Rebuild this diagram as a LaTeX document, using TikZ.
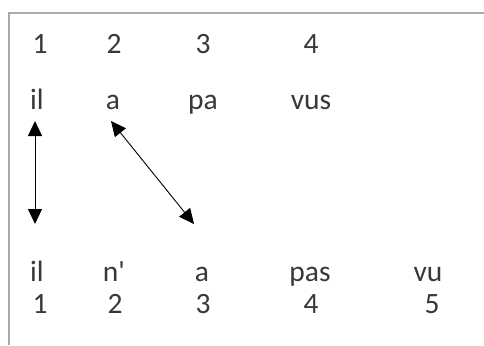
\documentclass[tikz,border=0pt]{standalone}
\usepackage{fontspec}
\setmainfont{Carlito}
\usetikzlibrary{arrows.meta}
\begin{document}
\begin{tikzpicture}[x=1pt,y=-1pt,
  word/.style={anchor=base,inner sep=0pt,font=\fontsize{29.5}{31}\selectfont,text=black!78},
  frame/.style={draw=black!33,line width=1.5pt},
  link/.style={{Triangle[length=15pt,width=14pt]}-{Triangle[length=15pt,width=14pt]},line width=0.9pt}]
\useasboundingbox[fill=white] (0,0) rectangle (484,345);
\draw[frame] (484,13) -- (9,13) -- (9,345);
% row 1
\node[word] (n11) at (40,53) {1};
\node[word] (n12) at (114,53) {2};
\node[word] (n13) at (203,53) {3};
\node[word] (n14) at (311,53) {4};
% row 2
\node[word] (w11) at (37,109) {il};
\node[word] (w12) at (113,109) {a};
\node[word] (w13) at (203,109) {pa};
\node[word] (w14) at (311,109) {vus};
% row 3
\node[word] (w21) at (37,281) {il};
\node[word] (w22) at (114,281) {n\textquotesingle};
\node[word] (w23) at (202,281) {a};
\node[word] (w24) at (310,281) {pas};
\node[word] (w25) at (428,281) {vu};
% row 4
\node[word] (n21) at (40,313) {1};
\node[word] (n22) at (115,313) {2};
\node[word] (n23) at (203,313) {3};
\node[word] (n24) at (311,313) {4};
\node[word] (n25) at (432,313) {5};
% arrows
\coordinate (a1t) at (35,121);
\coordinate (a1b) at (35,224);
\coordinate (a2t) at (111,121);
\coordinate (a2b) at (194,224);
\draw[link] (a1t) -- (a1b);
\draw[link] (a2t) -- (a2b);
\end{tikzpicture}
\end{document}
